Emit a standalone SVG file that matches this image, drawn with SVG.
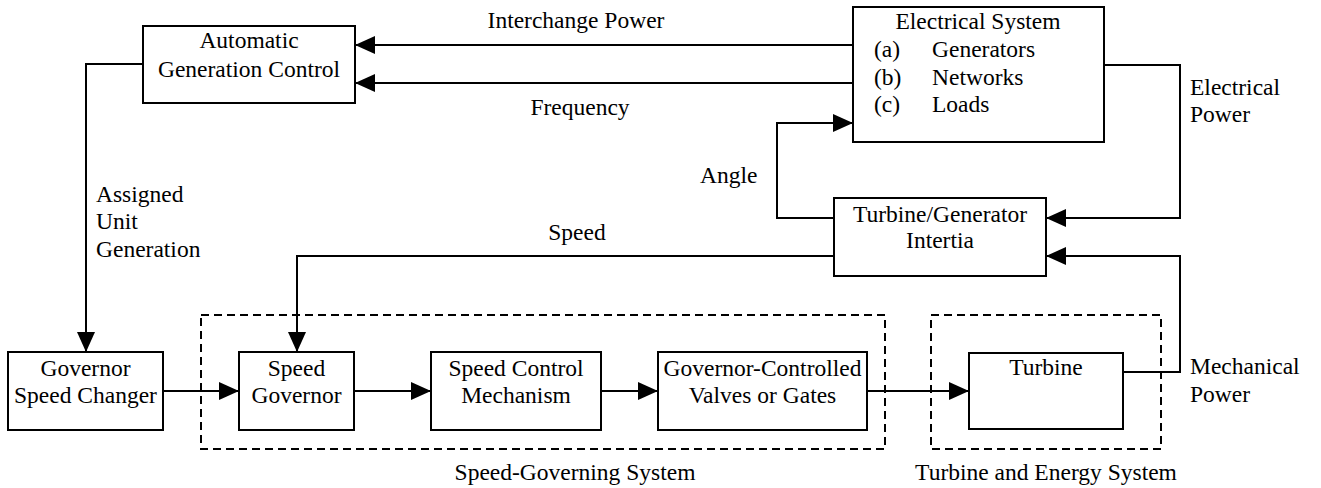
<svg xmlns="http://www.w3.org/2000/svg" width="1321" height="488" viewBox="0 0 1321 488">
<style>
text{font-family:"Times New Roman","Liberation Serif",Tinos,"Noto Serif","DejaVu Serif",serif;font-size:23.5px;fill:#000}
.c{text-anchor:middle}
.box{fill:#fff;stroke:#000;stroke-width:2}
.dash{fill:none;stroke:#000;stroke-width:2;stroke-dasharray:8 5}
.ln{fill:none;stroke:#000;stroke-width:2}
</style>
<defs>
<marker id="ah" markerUnits="userSpaceOnUse" markerWidth="20" markerHeight="18" refX="20" refY="9" orient="auto">
<path d="M0,0 L20,9 L0,18 z" fill="#000"/>
</marker>
</defs>
<rect width="1321" height="488" fill="#fff"/>
<g id="groups">
<rect class="dash" x="201" y="315" width="684" height="134"/>
<rect class="dash" x="931" y="315" width="230" height="134"/>
<text class="c" x="575" y="480">Speed-Governing System</text>
<text class="c" x="1046" y="480">Turbine and Energy System</text>
</g>
<g id="connectors">
<path class="ln" d="M853,45 H355" marker-end="url(#ah)"/>
<path class="ln" d="M853,83 H355" marker-end="url(#ah)"/>
<path class="ln" d="M143,64 H86 V352" marker-end="url(#ah)"/>
<path class="ln" d="M163,391 H239" marker-end="url(#ah)"/>
<path class="ln" d="M354,391 H431" marker-end="url(#ah)"/>
<path class="ln" d="M601,391 H658" marker-end="url(#ah)"/>
<path class="ln" d="M867,391 H969" marker-end="url(#ah)"/>
<path class="ln" d="M1123,372 H1180 V256 H1046" marker-end="url(#ah)"/>
<path class="ln" d="M1104,65 H1180 V218 H1046" marker-end="url(#ah)"/>
<path class="ln" d="M834,218 H777 V123 H853" marker-end="url(#ah)"/>
<path class="ln" d="M834,256 H297 V352" marker-end="url(#ah)"/>
<text class="c" x="576" y="28">Interchange Power</text>
<text class="c" x="580" y="115">Frequency</text>
<text x="96" y="202">Assigned</text>
<text x="96" y="229">Unit</text>
<text x="96" y="257">Generation</text>
<text x="700" y="183">Angle</text>
<text class="c" x="577" y="240">Speed</text>
<text x="1190" y="95">Electrical</text>
<text x="1190" y="122">Power</text>
<text x="1190" y="374">Mechanical</text>
<text x="1190" y="402">Power</text>
</g>
<g id="agc">
<rect class="box" x="143" y="26" width="212" height="77"/>
<text class="c" x="249" y="48">Automatic</text>
<text class="c" x="249" y="77">Generation Control</text>
</g>
<g id="electrical-system">
<rect class="box" x="853" y="7" width="251" height="135"/>
<text class="c" x="978" y="29">Electrical System</text>
<text x="874" y="57">(a)</text>
<text x="932" y="57">Generators</text>
<text x="874" y="85">(b)</text>
<text x="932" y="85">Networks</text>
<text x="874" y="112">(c)</text>
<text x="932" y="112">Loads</text>
</g>
<g id="tg-inertia">
<rect class="box" x="834" y="198" width="212" height="78"/>
<text class="c" x="940" y="222">Turbine/Generator</text>
<text class="c" x="940" y="248">Intertia</text>
</g>
<g id="gov-speed-changer">
<rect class="box" x="8" y="352" width="155" height="78"/>
<text class="c" x="85.5" y="376">Governor</text>
<text class="c" x="85.5" y="403">Speed Changer</text>
</g>
<g id="speed-governor">
<rect class="box" x="239" y="352" width="115" height="78"/>
<text class="c" x="296.5" y="376">Speed</text>
<text class="c" x="296.5" y="403">Governor</text>
</g>
<g id="speed-control">
<rect class="box" x="431" y="352" width="170" height="78"/>
<text class="c" x="516" y="376">Speed Control</text>
<text class="c" x="516" y="403">Mechanism</text>
</g>
<g id="valves">
<rect class="box" x="658" y="352" width="209" height="78"/>
<text class="c" x="762.5" y="376">Governor-Controlled</text>
<text class="c" x="762.5" y="403">Valves or Gates</text>
</g>
<g id="turbine">
<rect class="box" x="969" y="353" width="154" height="76"/>
<text class="c" x="1046" y="375">Turbine</text>
</g>
</svg>
